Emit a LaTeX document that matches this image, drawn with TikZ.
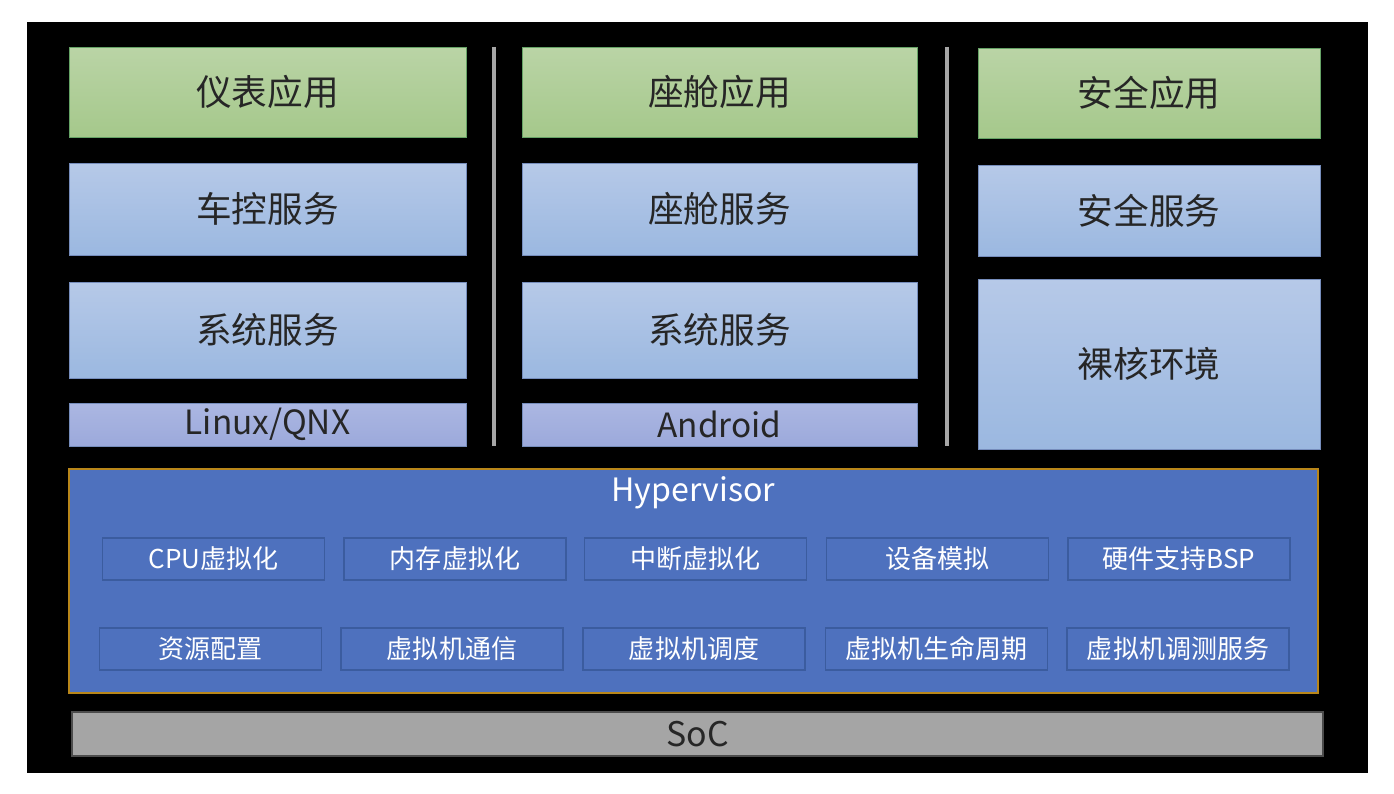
\documentclass[tikz,border=0pt]{standalone}
\usepackage{fontspec}
\setmainfont{Noto Sans CJK SC}
\usepackage{tikz}
\usetikzlibrary{positioning,shadings}
\definecolor{appgreenA}{HTML}{BAD4A6}
\definecolor{appgreenB}{HTML}{A5C88B}
\definecolor{svcblueA}{HTML}{B6C9E8}
\definecolor{svcblueB}{HTML}{9BB8E0}
\definecolor{osblueA}{HTML}{ABB7E2}
\definecolor{osblueB}{HTML}{9CA9DB}
\definecolor{hypblue}{HTML}{4E71BE}
\definecolor{hypline}{HTML}{3B5C9F}
\definecolor{hypgold}{HTML}{B8861A}
\definecolor{socgray}{HTML}{A5A5A5}
\definecolor{textdark}{HTML}{262626}

\begin{document}
\begin{tikzpicture}[x=0.02cm,y=-0.02cm,
  appbox/.style={draw=green!40!black!60, top color=appgreenA, bottom color=appgreenB,
    text=textdark, font=\fontsize{20.3}{22}\selectfont, inner sep=0pt},
  svcbox/.style={draw=hypline!70, top color=svcblueA, bottom color=svcblueB,
    text=textdark, font=\fontsize{20.3}{22}\selectfont, inner sep=0pt},
  osbox/.style={draw=hypline!70, top color=osblueA, bottom color=osblueB,
    text=textdark, font=\fontsize{19}{21}\selectfont, inner sep=0pt,
    minimum height=0.86cm},
  vmbox/.style={draw=hypline, line width=1pt, fill=hypblue, text=white,
    font=\fontsize{14.8}{16}\selectfont, inner sep=0pt,
    minimum width=4.44cm, minimum height=0.84cm},
  sepline/.style={draw=gray!70, line width=2.6pt}]
\fill[white] (0,0) rectangle (1394,794);
\fill[black] (27,22) rectangle (1368,773);

% column 1
\node[appbox, minimum width=7.94cm, minimum height=1.8cm] (app1) at (267.5,92) {仪表应用};
\node[svcbox, minimum width=7.94cm, minimum height=1.84cm] (svc1) at (267.5,209) {车控服务};
\node[svcbox, minimum width=7.94cm, minimum height=1.92cm] (sys1) at (267.5,330) {系统服务};
\node[osbox, minimum width=7.94cm] (os1) at (267.5,424.5) {Linux/QNX};

% column 2
\node[appbox, minimum width=7.9cm, minimum height=1.8cm] (app2) at (719.5,92) {座舱应用};
\node[svcbox, minimum width=7.9cm, minimum height=1.84cm] (svc2) at (719.5,209) {座舱服务};
\node[svcbox, minimum width=7.9cm, minimum height=1.92cm] (sys2) at (719.5,330) {系统服务};
\node[osbox, minimum width=7.9cm] (os2) at (719.5,424.5) {Android};

% column 3
\node[appbox, minimum width=6.84cm, minimum height=1.8cm] (app3) at (1149,93) {安全应用};
\node[svcbox, minimum width=6.84cm, minimum height=1.82cm] (svc3) at (1149,210.5) {安全服务};
\node[svcbox, minimum width=6.84cm, minimum height=3.4cm] (bare3) at (1149,364) {裸核环境};

% separators
\draw[sepline] (494,47) -- (494,446);
\draw[sepline] (947,47) -- (947,446);

% hypervisor
\node[draw=hypgold, line width=1pt, fill=hypblue, minimum width=24.98cm,
  minimum height=4.48cm, inner sep=0pt] (hyp) at (693.5,581) {};
\node[text=white, font=\fontsize{18.3}{20}\selectfont] (hyptitle) at (693.5,493) {Hypervisor};

\node[vmbox] (cpu) at (213.5,559) {CPU虚拟化};
\node[vmbox] (mem) at (455,559) {内存虚拟化};
\node[vmbox] (irq) at (695.5,559) {中断虚拟化};
\node[vmbox] (dev) at (937.5,559) {设备模拟};
\node[vmbox] (bsp) at (1179,559) {硬件支持BSP};

\node[vmbox] (res) at (210.5,649) {资源配置};
\node[vmbox] (com) at (452,649) {虚拟机通信};
\node[vmbox] (sch) at (694,649) {虚拟机调度};
\node[vmbox] (life) at (936.5,649) {虚拟机生命周期};
\node[vmbox] (dbg) at (1178,649) {虚拟机调测服务};

% soc
\node[draw=gray!60!black, line width=1pt, fill=socgray, text=textdark,
  font=\fontsize{19.3}{21}\selectfont, minimum width=25.02cm, minimum height=0.88cm,
  inner sep=0pt] (soc) at (697.5,734) {SoC};
\end{tikzpicture}
\end{document}
